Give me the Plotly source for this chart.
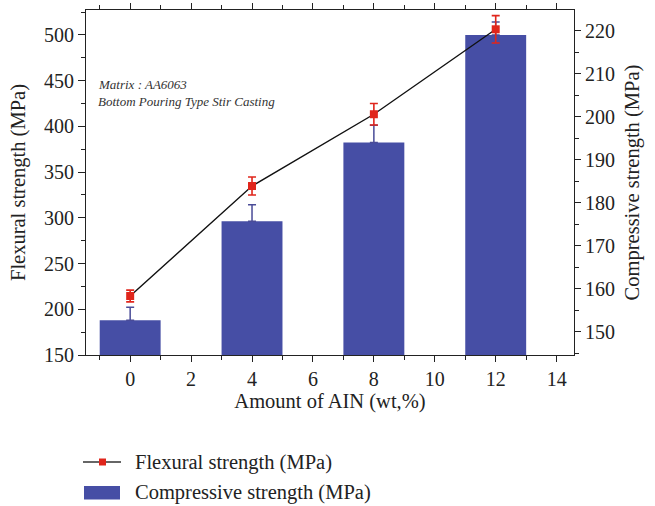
import plotly.graph_objects as go

# Amount of AlN reinforcement (wt.%)
aln_wt = [0, 4, 8, 12]

# Flexural strength (MPa) with error
flexural = [214.5, 334.8, 413.3, 506.2]
flexural_err = [6.4, 9.8, 11.8, 15.0]

# Compressive strength (MPa) with upward error
compressive = [152.7, 175.7, 194.0, 219.0]
compressive_err = [3.0, 3.8, 4.0, 3.0]
compressive_err_minus = [0, 0, 0, 0]

x_ticks = [0, 2, 4, 6, 8, 10, 12, 14]

FONT = "Liberation Serif"
BAR_COLOR = "#464ea5"
LINE_RED = "#e0261c"

fig = go.Figure()

# Compressive strength bars on the right-hand axis (drawn first, underneath)
fig.add_trace(go.Bar(
    x=aln_wt, y=compressive, width=2,
    marker=dict(color=BAR_COLOR, line=dict(width=0)),
    error_y=dict(type="data", array=compressive_err,
                 arrayminus=compressive_err_minus, symmetric=False,
                 color="#4a4c98", thickness=1.5, width=4),
    yaxis="y", name="Compressive strength (MPa)", showlegend=False,
))

# Flexural strength line on the left-hand axis (overlaid on top)
fig.add_trace(go.Scatter(
    x=aln_wt, y=flexural, mode="lines+markers",
    line=dict(color="#111111", width=1.4),
    marker=dict(symbol="square", size=8, color=LINE_RED),
    error_y=dict(type="data", array=flexural_err, color=LINE_RED,
                 thickness=1.6, width=4),
    yaxis="y2", name="Flexural strength (MPa)", showlegend=False,
))

axis_font = dict(family=FONT, size=20, color="#222")
title_font = dict(family=FONT, size=20.5, color="#222")

# Paper-coordinate helpers for the legend placed under the axes
L, R, T, B = 86, 81, 10, 151
W, H = 655, 506
pw, ph = W - L - R, H - T - B
def px(xp):
    return (xp - L) / pw
def py(yp):
    return (H - B - yp) / ph

shapes = [
    dict(type="line", xref="paper", yref="paper",
         x0=px(83), x1=px(121), y0=py(462), y1=py(462),
         line=dict(color="#333", width=1.5)),
    dict(type="rect", xref="paper", yref="paper",
         x0=px(99), x1=px(106), y0=py(458.5), y1=py(465.5),
         fillcolor=LINE_RED, line=dict(width=0)),
    dict(type="rect", xref="paper", yref="paper",
         x0=px(84), x1=px(120), y0=py(486), y1=py(499.5),
         fillcolor=BAR_COLOR, line=dict(width=0)),
]

note_font = dict(family=FONT, size=13, color="#333", style="italic")
annotations = [
    dict(text="Matrix : AA6063", xref="paper", yref="paper",
         x=px(96), y=py(84), xanchor="left", yanchor="middle",
         showarrow=False, font=note_font),
    dict(text="Bottom Pouring Type Stir Casting", xref="paper", yref="paper",
         x=px(96), y=py(101.5), xanchor="left", yanchor="middle",
         showarrow=False, font=note_font),
    dict(text="Flexural strength (MPa)", xref="paper", yref="paper",
         x=px(133), y=py(462), xanchor="left", yanchor="middle",
         showarrow=False, font=title_font),
    dict(text="Compressive strength (MPa)", xref="paper", yref="paper",
         x=px(133), y=py(493), xanchor="left", yanchor="middle",
         showarrow=False, font=title_font),
]

fig.update_layout(
    width=W, height=H,
    margin=dict(l=L, r=R, t=T, b=B, autoexpand=False),
    font=dict(family=FONT, size=20, color="#222"),
    paper_bgcolor="white", plot_bgcolor="white",
    showlegend=False,
    xaxis=dict(
        range=[-1.45, 14.57], tickvals=x_ticks, automargin=False,
        ticks="outside", ticklen=6, tickwidth=1, tickcolor="#222",
        showline=True, linecolor="#222", linewidth=1, mirror="ticks",
        showgrid=False, zeroline=False, tickfont=axis_font,
        minor=dict(dtick=1, tick0=1, ticks="outside", ticklen=4,
                   tickcolor="#222", showgrid=False),
        title=dict(text="Amount of AIN (wt,%)", font=title_font, standoff=2),
    ),
    yaxis=dict(
        side="right", range=[144.6, 224.8], automargin=False,
        tickvals=[150, 160, 170, 180, 190, 200, 210, 220],
        ticks="outside", ticklen=6, tickwidth=1, tickcolor="#222",
        showline=True, linecolor="#222", linewidth=1,
        showgrid=False, zeroline=False, tickfont=axis_font,
        minor=dict(dtick=5, tick0=145, ticks="outside", ticklen=4,
                   tickcolor="#222", showgrid=False),
        title=dict(text="Compressive strength (MPa)", font=title_font,
                   standoff=10),
    ),
    yaxis2=dict(
        overlaying="y", side="left", range=[150, 527.3], automargin=False,
        tickvals=[150, 200, 250, 300, 350, 400, 450, 500],
        ticks="outside", ticklen=7, tickwidth=1, tickcolor="#222",
        showline=True, linecolor="#222", linewidth=1,
        showgrid=False, zeroline=False, tickfont=axis_font,
        minor=dict(dtick=25, tick0=150, ticks="outside", ticklen=4,
                   tickcolor="#222", showgrid=False),
        title=dict(text="Flexural strength (MPa)", font=title_font,
                   standoff=12),
    ),
    shapes=shapes,
    annotations=annotations,
)

fig.write_html("out.html")
